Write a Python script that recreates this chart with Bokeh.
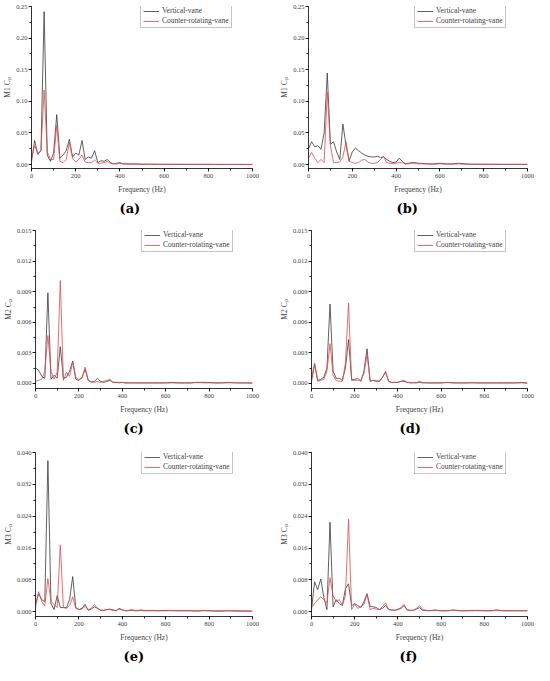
from bokeh.plotting import figure
from bokeh.layouts import column, row
from bokeh.models import (Range1d, SingleIntervalTicker, NumeralTickFormatter,
                          Legend, LegendItem, Title)
from bokeh.embed import file_html
from bokeh.resources import INLINE

# Frequency grid (Hz)
freq = [0, 14.3, 28.6, 42.9, 57.1, 71.4, 85.7, 100, 114.3, 128.6, 142.9, 157.1,
        171.4, 185.7, 200, 214.3, 228.6, 242.9, 257.1, 271.4, 285.7, 300, 314.3,
        328.6, 342.9, 357.1, 371.4, 385.7, 400, 414.3, 428.6, 442.9, 457.1, 471.4,
        485.7, 500, 514.3,
        542.9, 571.4, 600, 628.6, 657.1, 685.7, 714.3, 742.9, 771.4, 800, 828.6,
        857.1, 885.7, 914.3, 942.9, 971.4, 1000]

series_names = ["Vertical-vane", "Counter-rotating-vane"]

# (a) M1 Cp
a_vertical = [0.005, 0.038, 0.016, 0.022, 0.242, 0.015, 0.005, 0.018, 0.079, 0.010, 0.015, 0.022,
              0.040, 0.012, 0.018, 0.015, 0.038, 0.008, 0.012, 0.010, 0.022, 0.003, 0.006,
              0.005, 0.008, 0.003, 0.001, 0.002, 0.003, 0.001, 0.001, 0.001, 0.0008, 0.001,
              0.0006, 0.0005, 0.0006,
              0.0005, 0.0004, 0.0004, 0.0003, 0.0004, 0.0003, 0.0003, 0.0003, 0.0002, 0.0003,
              0.0002, 0.0002, 0.0002, 0.0002, 0.0002, 0.0001, 0.0001]
a_counter = [0.010, 0.030, 0.018, 0.022, 0.118, 0.020, 0.008, 0.008, 0.062, 0.005, 0.003, 0.008,
             0.035, 0.010, 0.004, 0.008, 0.015, 0.004, 0.003, 0.003, 0.007, 0.002, 0.002,
             0.003, 0.005, 0.002, 0.001, 0.001, 0.002, 0.001, 0.0008, 0.0006, 0.0005, 0.0006,
             0.0005, 0.0004, 0.0004,
             0.0004, 0.0003, 0.0003, 0.0003, 0.0002, 0.0002, 0.0002, 0.0002, 0.0002, 0.0002,
             0.0001, 0.0001, 0.0001, 0.0001, 0.0001, 0.0001, 0.0001]

# (b) M1 Cp
b_vertical = [0.025, 0.036, 0.028, 0.030, 0.024, 0.050, 0.145, 0.032, 0.036, 0.020, 0.008, 0.064,
              0.030, 0.006, 0.020, 0.026, 0.022, 0.018, 0.015, 0.013, 0.012, 0.012, 0.013,
              0.011, 0.012, 0.008, 0.005, 0.003, 0.004, 0.010, 0.005, 0.001, 0.002, 0.003,
              0.003, 0.002, 0.002,
              0.001, 0.001, 0.002, 0.001, 0.001, 0.002, 0.001, 0.0005, 0.0005, 0.0005,
              0.0004, 0.0004, 0.0003, 0.0003, 0.0003, 0.0003, 0.0002]
b_counter = [0.010, 0.019, 0.010, 0.003, 0.008, 0.003, 0.115, 0.030, 0.003, 0.003, 0.004, 0.012,
             0.036, 0.005, 0.003, 0.002, 0.003, 0.007, 0.008, 0.004, 0.002, 0.002, 0.003,
             0.008, 0.013, 0.003, 0.002, 0.001, 0.002, 0.003, 0.003, 0.001, 0.001, 0.002,
             0.002, 0.001, 0.001,
             0.0008, 0.0006, 0.001, 0.0006, 0.0005, 0.001, 0.0005, 0.0004, 0.0004, 0.0003,
             0.0003, 0.0003, 0.0002, 0.0002, 0.0002, 0.0002, 0.0002]

# (c) M2 Cp
c_vertical = [0.0015, 0.0013, 0.0007, 0.0005, 0.0089, 0.0004, 0.0008, 0.0005, 0.0036, 0.0005,
              0.0006, 0.0012, 0.0022, 0.0004, 0.0003, 0.0006, 0.0014, 0.0003, 0.0001, 0.0002,
              0.0005, 0.0002, 0.0001, 0.0002, 0.0003, 0.0001, 0.0001, 0.0001, 0.0001, 0.00005,
              0.00005, 0.00005, 0.00005, 0.00005, 0.00005, 0.00005, 0.00005,
              0.00005, 0.00005, 0.00005, 0.0001, 0.00005, 0.00005, 0.00005, 0.0001, 0.0001,
              0.0001, 0.00005, 0.00005, 0.0001, 0.00005, 0.00005, 0.00005, 0.00003]
c_counter = [0.0002, 0.0003, 0.0004, 0.0012, 0.0047, 0.0012, 0.0004, 0.0011, 0.0101, 0.0003,
             0.0011, 0.0007, 0.0021, 0.0006, 0.0004, 0.0005, 0.0016, 0.0003, 0.0002, 0.0001,
             0.0002, 0.0001, 0.0002, 0.0003, 0.0004, 0.0001, 0.0001, 0.00005, 0.0001, 0.00005,
             0.00005, 0.00005, 0.00005, 0.00005, 0.00005, 0.00005, 0.00005,
             0.00005, 0.00005, 0.00005, 0.00005, 0.00005, 0.00005, 0.00005, 0.0001, 0.00005,
             0.00005, 0.00005, 0.00005, 0.00005, 0.0001, 0.00005, 0.00005, 0.00003]

# (d) M2 Cp
d_vertical = [0.0002, 0.0019, 0.0003, 0.0004, 0.0006, 0.0015, 0.0078, 0.0012, 0.0005, 0.0005,
              0.0003, 0.0015, 0.0043, 0.0004, 0.0004, 0.0005, 0.0002, 0.0012, 0.0034, 0.0002,
              0.0003, 0.0002, 0.0002, 0.0006, 0.0011, 0.0002, 0.0001, 0.0001, 0.0001, 0.0002,
              0.0002, 0.0001, 0.00005, 0.00005, 0.00005, 0.0001, 0.00005,
              0.00005, 0.00005, 0.00005, 0.0001, 0.00005, 0.00005, 0.00005, 0.00005, 0.00005,
              0.00005, 0.00005, 0.00005, 0.00005, 0.00005, 0.00005, 0.0001, 0.00003]
d_counter = [0.0005, 0.0020, 0.0002, 0.0003, 0.0004, 0.0012, 0.0039, 0.0008, 0.0003, 0.0002,
             0.0002, 0.0020, 0.0079, 0.0003, 0.0003, 0.0003, 0.0003, 0.0010, 0.0028, 0.0003,
             0.0003, 0.0003, 0.0002, 0.0006, 0.0012, 0.0002, 0.0001, 0.0001, 0.0001, 0.0002,
             0.0003, 0.0001, 0.0001, 0.0001, 0.0001, 0.0002, 0.0001,
             0.00005, 0.00005, 0.00005, 0.0001, 0.00005, 0.00005, 0.00005, 0.0001, 0.00005,
             0.00005, 0.00005, 0.00005, 0.00005, 0.00005, 0.00005, 0.00005, 0.00003]

# (e) M3 Cp
e_vertical = [0.0020, 0.0045, 0.0030, 0.0025, 0.0380, 0.0020, 0.0005, 0.0040, 0.0010, 0.0010,
              0.0010, 0.0030, 0.0088, 0.0010, 0.0005, 0.0008, 0.0018, 0.0003, 0.0006, 0.0012,
              0.0008, 0.0003, 0.0003, 0.0005, 0.0006, 0.0004, 0.0002, 0.0008, 0.0004, 0.0002,
              0.0002, 0.0003, 0.0002, 0.0002, 0.0003, 0.0002, 0.0002,
              0.0002, 0.0002, 0.0003, 0.0002, 0.0002, 0.0002, 0.0002, 0.0001, 0.0002, 0.0002,
              0.0001, 0.0001, 0.0002, 0.0001, 0.0001, 0.0001, 0.0001]
e_counter = [0.0010, 0.0050, 0.0025, 0.0015, 0.0083, 0.0025, 0.0018, 0.0010, 0.0167, 0.0010,
             0.0008, 0.0015, 0.0037, 0.0008, 0.0005, 0.0006, 0.0013, 0.0005, 0.0008, 0.0018,
             0.0008, 0.0004, 0.0003, 0.0005, 0.0005, 0.0003, 0.0002, 0.0006, 0.0004, 0.0002,
             0.0003, 0.0005, 0.0003, 0.0003, 0.0004, 0.0003, 0.0003,
             0.0003, 0.0002, 0.0002, 0.0003, 0.0002, 0.0002, 0.0002, 0.0002, 0.0003, 0.0002,
             0.0002, 0.0002, 0.0002, 0.0003, 0.0002, 0.0002, 0.0001]

# (f) M3 Cp
f_vertical = [0.0005, 0.0075, 0.0055, 0.0082, 0.0035, 0.0005, 0.0225, 0.0012, 0.0030, 0.0020,
              0.0015, 0.0058, 0.0070, 0.0015, 0.0020, 0.0015, 0.0010, 0.0025, 0.0045, 0.0013,
              0.0012, 0.0010, 0.0005, 0.0008, 0.0015, 0.0005, 0.0004, 0.0003, 0.0005, 0.0008,
              0.0015, 0.0004, 0.0003, 0.0003, 0.0006, 0.0010, 0.0003,
              0.0002, 0.0004, 0.0002, 0.0002, 0.0004, 0.0002, 0.0002, 0.0002, 0.0003, 0.0002,
              0.0002, 0.0004, 0.0002, 0.0002, 0.0002, 0.0002, 0.0002]
f_counter = [0.0010, 0.0020, 0.0030, 0.0037, 0.0030, 0.0022, 0.0085, 0.0040, 0.0025, 0.0030,
             0.0016, 0.0040, 0.0232, 0.0005, 0.0018, 0.0008, 0.0012, 0.0018, 0.0043, 0.0005,
             0.0008, 0.0006, 0.0005, 0.0012, 0.0022, 0.0005, 0.0004, 0.0003, 0.0006, 0.0010,
             0.0018, 0.0004, 0.0003, 0.0003, 0.0008, 0.0015, 0.0005,
             0.0002, 0.0003, 0.0002, 0.0002, 0.0003, 0.0002, 0.0002, 0.0003, 0.0002, 0.0002,
             0.0002, 0.0003, 0.0002, 0.0002, 0.0002, 0.0002, 0.0002]

SERIF = "Liberation Serif"
BLACK = "#3a3a3a"
RED = "#e84848"


def panel(tag, ylab, vert, ctr, y_bot, y_top, interval, fmt,
          w, h, bl, br, bt, bb):
    p = figure(width=w, height=h, output_backend="svg", toolbar_location=None,
               x_range=Range1d(0, 1000), y_range=Range1d(y_bot, y_top),
               min_border_left=bl, min_border_right=br,
               min_border_top=bt, min_border_bottom=bb)
    p.outline_line_color = None
    p.grid.visible = False
    p.background_fill_color = "white"
    p.border_fill_color = "white"

    r1 = p.line(freq, vert, line_color=BLACK, line_width=0.8)
    r2 = p.line(freq, ctr, line_color=RED, line_width=0.8)

    p.xaxis.ticker = SingleIntervalTicker(interval=200, num_minor_ticks=2)
    p.yaxis.ticker = SingleIntervalTicker(interval=interval, num_minor_ticks=2)
    p.yaxis.formatter = NumeralTickFormatter(format=fmt)
    p.xaxis.axis_label = "Frequency (Hz)"
    p.yaxis.axis_label = ylab
    for ax in (p.xaxis[0], p.yaxis[0]):
        ax.axis_line_color = "black"
        ax.axis_line_width = 0.8
        ax.major_tick_line_width = 0.8
        ax.minor_tick_line_width = 0.8
        ax.major_tick_in = 0
        ax.major_tick_out = 3
        ax.minor_tick_in = 0
        ax.minor_tick_out = 2
        ax.major_label_text_font = SERIF
        ax.major_label_text_font_size = "6.5px"
        ax.axis_label_text_font = SERIF
        ax.axis_label_text_font_size = "7.5px"
        ax.axis_label_text_font_style = "normal"
    p.xaxis.major_label_standoff = 2
    p.xaxis.axis_label_standoff = 4
    p.yaxis.major_label_standoff = 1
    p.yaxis.axis_label_standoff = 1

    fw = w - bl - br
    fh = h - bt - bb
    leg = Legend(items=[LegendItem(label=series_names[0], renderers=[r1]),
                        LegendItem(label=series_names[1], renderers=[r2])],
                 location=(fw - 113, fh - 22))
    leg.label_text_font = SERIF
    leg.label_text_font_size = "7.5px"
    leg.label_height = 8
    leg.glyph_height = 8
    leg.glyph_width = 16
    leg.label_standoff = 3
    leg.padding = 2
    leg.spacing = 1
    leg.margin = 0
    leg.border_line_color = "#8a8a8a"
    leg.border_line_width = 0.6
    leg.background_fill_alpha = 1
    p.add_layout(leg)

    p.add_layout(Title(text=tag, align="left", offset=88, standoff=4,
                       text_font="DejaVu Serif", text_font_style="bold",
                       text_font_size="13px", text_color="black"), "below")
    return p


pa = panel("(a)", "M1 Cₚ", a_vertical, a_counter, -0.0063, 0.2502, 0.05, "0.00",
           264, 221, 30, 12, 6, 53)
pb = panel("(b)", "M1 Cₚ", b_vertical, b_counter, -0.0063, 0.2502, 0.05, "0.00",
           270, 221, 44, 7, 6, 53)
pc = panel("(c)", "M2 Cₚ", c_vertical, c_counter, -0.0005, 0.01502, 0.003, "0.000",
           264, 222, 33, 12, 9, 55)
pd = panel("(d)", "M2 Cₚ", d_vertical, d_counter, -0.0005, 0.01502, 0.003, "0.000",
           270, 222, 47, 7, 9, 55)
pe = panel("(e)", "M3 Cₚ", e_vertical, e_counter, -0.00125, 0.04005, 0.008, "0.000",
           264, 222, 33, 12, 9, 49)
pf = panel("(f)", "M3 Cₚ", f_vertical, f_counter, -0.00125, 0.04005, 0.008, "0.000",
           270, 222, 47, 7, 9, 49)

layout = column(row(pa, pb), row(pc, pd), row(pe, pf))
open("out.html", "w").write(file_html(layout, INLINE))
